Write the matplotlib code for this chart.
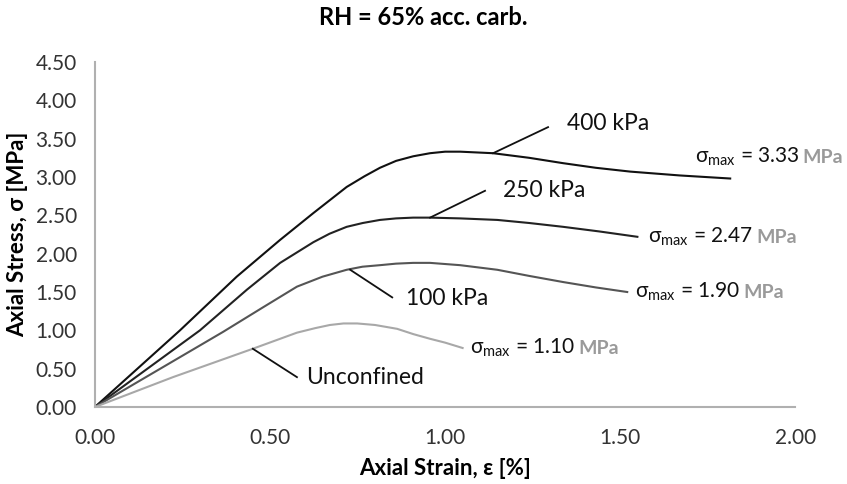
import matplotlib
matplotlib.use("Agg")
import matplotlib.pyplot as plt

plt.rcParams['font.family'] = ['Lato', 'DejaVu Sans']
plt.rcParams['mathtext.fontset'] = 'custom'
plt.rcParams['mathtext.rm'] = 'Lato'

# curves: strain [%], stress [MPa]
strain_400 = [0, 0.243, 0.405, 0.529, 0.624, 0.719, 0.77, 0.814, 0.86, 0.909, 0.957, 1.0,
              1.043, 1.137, 1.24, 1.337, 1.43, 1.529, 1.67, 1.814]
stress_400 = [0, 1.00, 1.70, 2.18, 2.53, 2.87, 3.01, 3.12, 3.21, 3.27, 3.31, 3.33,
              3.33, 3.31, 3.25, 3.18, 3.12, 3.07, 3.02, 2.98]

strain_250 = [0, 0.30, 0.434, 0.529, 0.624, 0.67, 0.719, 0.765, 0.814, 0.86, 0.909, 0.957,
              1.043, 1.149, 1.24, 1.337, 1.44, 1.549]
stress_250 = [0, 1.00, 1.53, 1.88, 2.15, 2.26, 2.35, 2.40, 2.44, 2.46, 2.47, 2.47,
              2.46, 2.44, 2.40, 2.35, 2.29, 2.22]

strain_100 = [0, 0.366, 0.48, 0.577, 0.65, 0.719, 0.764, 0.814, 0.86, 0.909, 0.957,
              1.043, 1.149, 1.24, 1.337, 1.43, 1.52]
stress_100 = [0, 0.98, 1.30, 1.57, 1.70, 1.79, 1.83, 1.85, 1.87, 1.88, 1.88,
              1.85, 1.79, 1.71, 1.63, 1.56, 1.50]

strain_unc = [0, 0.223, 0.451, 0.577, 0.63, 0.671, 0.71, 0.749, 0.80, 0.863, 0.91, 0.957, 1.0, 1.05]
stress_unc = [0, 0.39, 0.76, 0.97, 1.03, 1.07, 1.09, 1.09, 1.07, 1.02, 0.95, 0.89, 0.84, 0.77]

curves = [
    (strain_400, stress_400, '#111111'),
    (strain_250, stress_250, '#222222'),
    (strain_100, stress_100, '#555555'),
    (strain_unc, stress_unc, '#a8a8a8'),
]

x_ticks = [0, 0.5, 1.0, 1.5, 2.0]
y_ticks = [0, 0.5, 1.0, 1.5, 2.0, 2.5, 3.0, 3.5, 4.0, 4.5]

fig = plt.figure(figsize=(8.47, 4.84), dpi=100)
ax = fig.add_axes([0.112, 0.159, 0.827, 0.713])

for x, y, c in curves:
    ax.plot(x, y, color=c, lw=1.5)

ax.set_xlim(0, 2.0)
ax.set_ylim(0, 4.5)
ax.set_xticks(x_ticks)
ax.set_yticks(y_ticks)
ax.set_xticklabels(['%.2f' % v for v in x_ticks], fontsize=15, color='#333333')
ax.set_yticklabels(['%.2f' % v for v in y_ticks], fontsize=15, color='#333333')
ax.tick_params(length=0)
ax.tick_params(axis='y', pad=13)
ax.tick_params(axis='x', pad=15)
for s in ['top', 'right']:
    ax.spines[s].set_visible(False)
for s in ['left', 'bottom']:
    ax.spines[s].set_color('#b0b0b0')
    ax.spines[s].set_linewidth(1.5)

ax.set_xlabel('Axial Strain, ε [%]', fontsize=16, fontweight='bold', va='center')
ax.set_ylabel('Axial Stress, σ [MPa]', fontsize=16, fontweight='bold', va='center')
ax.xaxis.set_label_coords(0.5, -0.177)
ax.yaxis.set_label_coords(-0.11, 0.5)
fig.text(0.5, 0.963, 'RH = 65% acc. carb.', ha='center', va='center',
         fontsize=17, fontweight='bold')

# curve labels with leader lines
labels = [
    ('400 kPa', (1.137, 3.31), (1.294, 3.65), (1.349, 3.70)),
    ('250 kPa', (0.957, 2.47), (1.114, 2.82), (1.166, 2.83)),
    ('100 kPa', (0.729, 1.79), (0.849, 1.43), (0.889, 1.42)),
    ('Unconfined', (0.451, 0.76), (0.577, 0.39), (0.603, 0.39)),
]
for txt, p_curve, p_line, p_text in labels:
    ax.plot([p_curve[0], p_line[0]], [p_curve[1], p_line[1]], color='#111111', lw=1.3)
    ax.text(p_text[0], p_text[1], txt, fontsize=16.5, va='center', ha='left', color='#111111')

# peak stress notes
peaks = [('3.33', 1.714, 3.26), ('2.47', 1.58, 2.22), ('1.90', 1.543, 1.50), ('1.10', 1.071, 0.77)]
for val, px, py in peaks:
    t = ax.text(px, py, 'σ$_{\\mathrm{max}}$ = ' + val, fontsize=15, va='center', ha='left',
                color='#111111')
    ax.annotate('MPa', xy=(1, 0.22), xycoords=t, xytext=(2, 0), textcoords='offset points',
                fontsize=14, fontweight='bold', color='#9a9a9a', va='baseline', ha='left')

fig.savefig('out.png', dpi=100)
